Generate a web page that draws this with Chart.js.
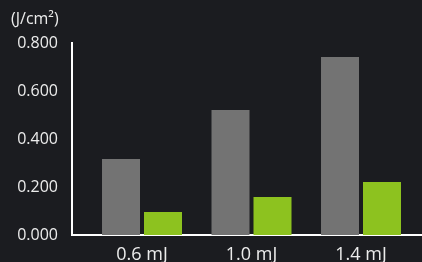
<!DOCTYPE html>
<html lang="en">
<head>
    <meta charset="UTF-8">
    <title>Fluence by pulse energy</title>
    <script src="https://cdn.jsdelivr.net/npm/chart.js"></script>
    <style>
        html, body {
            margin: 0;
            padding: 0;
            background: #1b1c20;
            overflow: hidden;
        }
        #chartBox {
            width: 422px;
            height: 262px;
        }
    </style>
</head>
<body>
    <div id="chartBox">
        <canvas id="fluenceChart"></canvas>
    </div>

    <script>
        // values
        const categories = ['0.6 mJ', '1.0 mJ', '1.4 mJ'];
        const grayValues = [0.317, 0.521, 0.742];
        const greenValues = [0.096, 0.158, 0.221];
        const yTicks = [0, 0.2, 0.4, 0.6, 0.8];
        const unitLabel = '(J/cm\u00B2)';

        const textColor = '#ececec';
        const fontFamily = '"Open Sans", "Noto Sans", sans-serif';

        // categories sit at x = 1, 2, 3 on a linear axis so the bars can be offset from the y axis
        const toPoints = values => values.map((v, i) => ({ x: i + 1, y: v }));

        const ctx = document.getElementById('fluenceChart').getContext('2d');
        const fluenceChart = new Chart(ctx, {
            type: 'bar',
            data: {
                datasets: [{
                    data: toPoints(grayValues),
                    backgroundColor: '#737373',
                    borderWidth: 0,
                    categoryPercentage: 0.767,
                    barPercentage: 0.905
                }, {
                    data: toPoints(greenValues),
                    backgroundColor: '#8dc21f',
                    borderWidth: 0,
                    categoryPercentage: 0.767,
                    barPercentage: 0.905
                }]
            },
            options: {
                responsive: true,
                maintainAspectRatio: false,
                animation: false,
                layout: {
                    padding: { left: 11, right: 0, top: 0, bottom: 0 }
                },
                plugins: {
                    legend: { display: false },
                    tooltip: { enabled: false },
                    title: {
                        display: true,
                        text: unitLabel,
                        align: 'start',
                        color: textColor,
                        font: { family: fontFamily, size: 16, weight: 'normal' },
                        padding: { top: 10, bottom: 13.8 }
                    }
                },
                scales: {
                    x: {
                        type: 'linear',
                        offset: false,
                        min: 0.3607,
                        max: 3.557,
                        afterBuildTicks: scale => {
                            scale.ticks = categories.map((c, i) => ({ value: i + 1 }));
                        },
                        afterFit: scale => { scale.height = 27; },
                        grid: { display: false, drawTicks: false, offset: false },
                        border: { display: true, color: '#ffffff', width: 2 },
                        ticks: {
                            color: textColor,
                            padding: 9.5,
                            maxRotation: 0,
                            autoSkip: false,
                            font: { family: fontFamily, size: 18 },
                            callback: value => categories[value - 1]
                        }
                    },
                    y: {
                        min: yTicks[0],
                        max: yTicks[yTicks.length - 1],
                        afterBuildTicks: scale => {
                            scale.ticks = yTicks.map(v => ({ value: v }));
                        },
                        afterFit: scale => { scale.width = 61; },
                        grid: { display: false, drawTicks: false },
                        border: { display: true, color: '#ffffff', width: 2 },
                        ticks: {
                            color: textColor,
                            padding: 14,
                            font: { family: fontFamily, size: 16 },
                            callback: value => value.toFixed(3)
                        }
                    }
                }
            }
        });
    </script>
</body>
</html>
